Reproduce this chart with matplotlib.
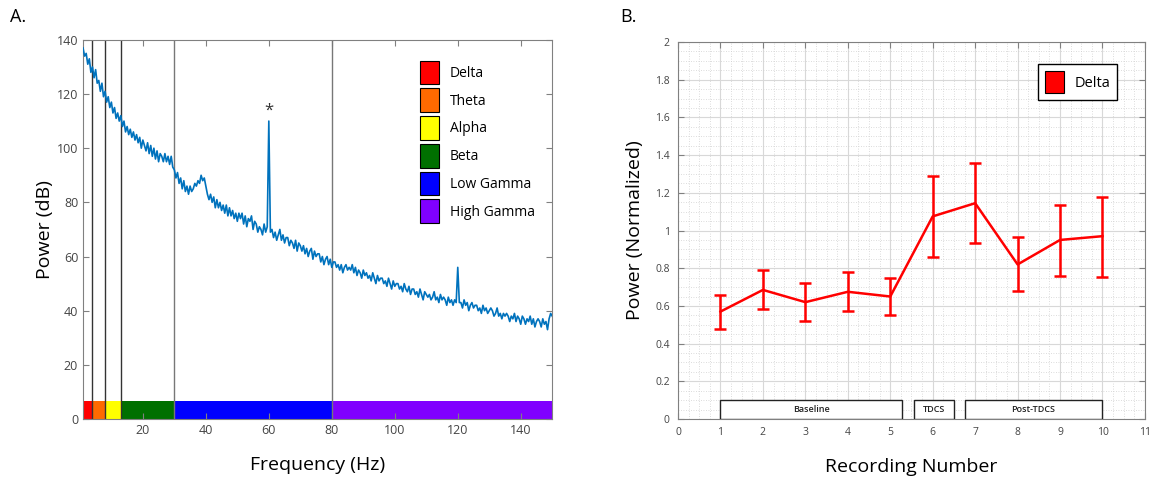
import matplotlib
matplotlib.use("Agg")
import matplotlib.pyplot as plt
import matplotlib.patches as mpatches
import numpy as np

plt.rcParams['font.family'] = ['Open Sans', 'DejaVu Sans']

# ---------------- Panel A data ----------------
freq_start = 1.0
freq_step = 0.5
psd_db = [
    137, 134, 135, 131, 133, 128, 130, 126, 129, 124,
    125, 121, 124, 119, 121, 117, 119, 115, 117, 113,
    115, 111, 113, 110, 112, 108, 110, 106, 108, 105,
    107, 104, 106, 103, 105, 102, 104, 100, 103, 101,
    99, 102, 98, 101, 97, 100, 96, 99, 95, 98,
    97, 95, 98, 95, 97, 94, 97, 93, 92, 89,
    91, 87, 89, 85, 88, 84, 86, 83, 86, 84,
    85, 87, 86, 88, 87, 90, 88, 89, 86, 83,
    81, 83, 80, 82, 78, 81, 78, 80, 77, 79,
    76, 79, 75, 78, 75, 77, 74, 76, 73, 76,
    74, 76, 72, 75, 71, 74, 73, 75, 70, 73,
    72, 69, 71, 70, 68, 72, 69, 71, 110, 69,
    70, 67, 69, 66, 68, 70, 66, 68, 65, 67,
    67, 64, 66, 65, 63, 66, 62, 65, 64, 62,
    64, 61, 63, 60, 62, 63, 59, 62, 60, 61,
    61, 58, 60, 57, 59, 60, 57, 59, 56, 58,
    58, 56, 57, 55, 57, 54, 56, 57, 55, 56,
    55, 57, 54, 56, 53, 55, 54, 52, 55, 53,
    54, 52, 53, 51, 54, 52, 50, 53, 51, 52,
    52, 50, 51, 49, 52, 50, 48, 51, 49, 50,
    50, 48, 49, 47, 50, 48, 47, 49, 46, 48,
    48, 46, 47, 45, 48, 46, 44, 47, 46, 45,
    46, 44, 45, 47, 44, 45, 43, 46, 44, 45,
    44, 42, 45, 43, 44, 42, 44, 43, 56, 43,
    43, 41, 44, 42, 43, 40, 42, 43, 41, 42,
    42, 40, 41, 39, 42, 40, 41, 39, 40, 41,
    40, 38, 39, 41, 38, 39, 37, 39, 38, 39,
    38, 36, 38, 37, 39, 36, 38, 37, 35, 38,
    37, 35, 37, 36, 38, 35, 37, 34, 36, 37,
    36, 34, 37, 35, 36, 33, 37, 39, 38,
]
band_names = ['Delta', 'Theta', 'Alpha', 'Beta', 'Low Gamma', 'High Gamma']
band_edges = [1, 4, 8, 13, 30, 80, 150]
band_colors = ['#FF0000', '#FF6A00', '#FFFF00', '#007000', '#0000FF', '#8000FF']
band_bar_height = 6.5

# ---------------- Panel B data ----------------
recording = [1, 2, 3, 4, 5, 6, 7, 8, 9, 10]
delta_power = [0.57, 0.685, 0.62, 0.675, 0.65, 1.075, 1.145, 0.82, 0.95, 0.97]
err_low = [0.48, 0.585, 0.52, 0.575, 0.55, 0.86, 0.935, 0.68, 0.76, 0.755]
err_high = [0.66, 0.79, 0.72, 0.78, 0.75, 1.29, 1.36, 0.965, 1.135, 1.18]
phase_labels = ['Baseline', 'TDCS', 'Post-TDCS']
phase_start = [1.0, 5.55, 6.75]
phase_end = [5.28, 6.5, 10.0]
phase_height = 0.1

fig = plt.figure(figsize=(11.5, 4.8), dpi=100)

tick_col = '#444444'
spine_col = '#808080'

# ---------------- Panel A ----------------
axA = fig.add_axes([0.0722, 0.127, 0.408, 0.79])
f = freq_start + freq_step * np.arange(len(psd_db))
for i in range(len(band_names)):
    axA.bar(band_edges[i], band_bar_height, width=band_edges[i + 1] - band_edges[i],
            align='edge', color=band_colors[i], edgecolor='none', zorder=1)
for j, e in enumerate(band_edges[1:-1]):
    col = '#333333' if e < 20 else '#777777'
    axA.axvline(e, color=col, lw=1.0, zorder=2)
axA.plot(f, psd_db, color='#0072BD', lw=1.2, zorder=3)
axA.text(60, 114, '*', ha='center', va='center', fontsize=12, color='#333333')
axA.set_xlim(1, 150)
axA.set_ylim(0, 140)
axA.set_xticks([20, 40, 60, 80, 100, 120, 140])
axA.set_yticks([0, 20, 40, 60, 80, 100, 120, 140])
axA.tick_params(direction='in', top=True, right=True, labelsize=9, colors=spine_col,
                labelcolor=tick_col, length=4)
for s in axA.spines.values():
    s.set_color(spine_col)
axA.set_xlabel('Frequency (Hz)', fontsize=14, labelpad=14)
axA.set_ylabel('Power (dB)', fontsize=14, labelpad=2)
handlesA = [mpatches.Patch(facecolor=c, edgecolor='black', lw=0.8) for c in band_colors]
legA = axA.legend(handlesA, band_names, loc='upper right', bbox_to_anchor=(0.99, 0.978),
                  frameon=False, fontsize=10, handlelength=1.35, handleheight=2.25,
                  labelspacing=0.29, handletextpad=0.8)
fig.text(0.009, 0.955, 'A.', fontsize=13)

# ---------------- Panel B ----------------
axB = fig.add_axes([0.5896, 0.127, 0.406, 0.7855])
axB.set_xlim(0, 11)
axB.set_ylim(0, 2)
axB.set_xticks(np.arange(0, 12, 1))
axB.set_yticks(np.arange(0, 2.01, 0.2))
axB.set_yticklabels(['0', '0.2', '0.4', '0.6', '0.8', '1', '1.2', '1.4', '1.6', '1.8', '2'])
axB.set_xticks(np.arange(0, 11.01, 0.25), minor=True)
axB.set_yticks(np.arange(0, 2.001, 0.05), minor=True)
axB.grid(which='major', color='#d8d8d8', lw=0.8)
axB.grid(which='minor', color='#d0d0d0', lw=0.6, ls=(0, (1, 2)))
axB.set_axisbelow(True)
axB.tick_params(which='major', direction='in', top=True, right=True, labelsize=7.5,
                colors=spine_col, labelcolor=tick_col, length=4, pad=6)
axB.tick_params(which='minor', length=0)
for s in axB.spines.values():
    s.set_color(spine_col)
for lab, x0, x1 in zip(phase_labels, phase_start, phase_end):
    axB.add_patch(mpatches.Rectangle((x0, 0), x1 - x0, phase_height, facecolor='white',
                                     edgecolor='#222222', lw=1.0, zorder=3))
    axB.text((x0 + x1) / 2, phase_height / 2, lab, ha='center', va='center',
             fontsize=6.5, fontweight='semibold', color='#222222', zorder=4)
yerr = [np.array(delta_power) - np.array(err_low), np.array(err_high) - np.array(delta_power)]
axB.errorbar(recording, delta_power, yerr=yerr, color='#FF0000', lw=1.8, elinewidth=1.8,
             capsize=4, capthick=1.8, zorder=5)
axB.set_xlabel('Recording Number', fontsize=14, labelpad=14)
axB.set_ylabel('Power (Normalized)', fontsize=14, labelpad=8)
legB = axB.legend([mpatches.Patch(facecolor='#FF0000', edgecolor='black', lw=0.8)], ['Delta'],
                  loc='upper right', bbox_to_anchor=(0.955, 0.96), fontsize=10.5, fancybox=False,
                  edgecolor='black', framealpha=1, handlelength=1.3, handleheight=2.0,
                  borderpad=0.45, handletextpad=0.7)
legB.get_frame().set_linewidth(1.0)
fig.text(0.539, 0.955, 'B.', fontsize=13)

fig.savefig('out.png', dpi=100)
